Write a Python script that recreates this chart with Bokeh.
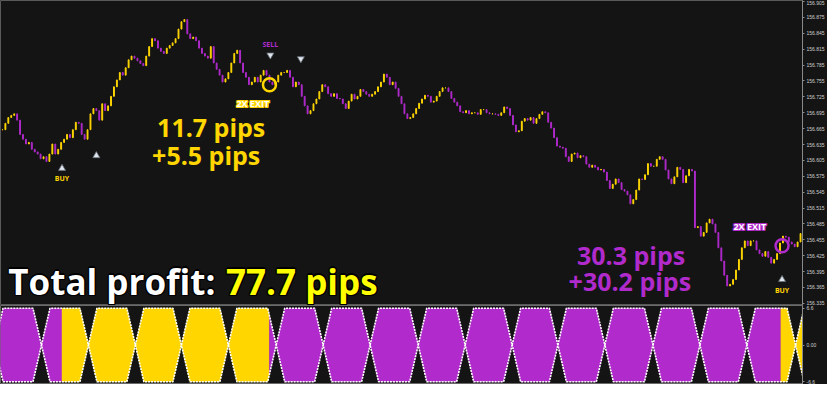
from bokeh.plotting import figure
from bokeh.models import Range1d, FixedTicker, ColumnDataSource, NumeralTickFormatter
from bokeh.layouts import column
from bokeh.embed import file_html
from bokeh.resources import INLINE
from bokeh.core.properties import value

# ---------------- data ----------------
closes = [
    156.663, 156.675, 156.686, 156.690, 156.693, 156.681, 156.654, 156.645, 156.636, 156.639,
    156.626, 156.621, 156.617, 156.608, 156.612, 156.603, 156.617, 156.636, 156.617, 156.626,
    156.639, 156.645, 156.654, 156.648, 156.663, 156.677, 156.675, 156.654, 156.645, 156.663,
    156.693, 156.703, 156.699, 156.681, 156.712, 156.699, 156.708, 156.726, 156.744, 156.757,
    156.771, 156.766, 156.780, 156.795, 156.802, 156.798, 156.793, 156.788, 156.784, 156.802,
    156.820, 156.835, 156.831, 156.817, 156.811, 156.807, 156.817, 156.822, 156.827, 156.835,
    156.853, 156.867, 156.871, 156.844, 156.835, 156.838, 156.831, 156.817, 156.807, 156.802,
    156.798, 156.820, 156.789, 156.777, 156.766, 156.753, 156.759, 156.771, 156.789, 156.807,
    156.813, 156.789, 156.771, 156.762, 156.748, 156.753, 156.762, 156.753, 156.766, 156.775,
    156.766, 156.753, 156.748, 156.753, 156.766, 156.771, 156.771, 156.775, 156.762, 156.744,
    156.753, 156.748, 156.726, 156.708, 156.693, 156.699, 156.712, 156.721, 156.735, 156.748,
    156.744, 156.731, 156.726, 156.731, 156.722, 156.721, 156.712, 156.703, 156.717, 156.730,
    156.721, 156.726, 156.739, 156.735, 156.730, 156.726, 156.730, 156.735, 156.744, 156.753,
    156.768, 156.762, 156.748, 156.753, 156.741, 156.726, 156.712, 156.693, 156.684, 156.686,
    156.693, 156.703, 156.713, 156.721, 156.728, 156.726, 156.715, 156.717, 156.726, 156.735,
    156.742, 156.742, 156.735, 156.722, 156.715, 156.708, 156.697, 156.695, 156.699, 156.693,
    156.695, 156.695, 156.692, 156.701, 156.701, 156.695, 156.693, 156.693, 156.692, 156.690,
    156.695, 156.706, 156.703, 156.690, 156.672, 156.659, 156.661, 156.679, 156.684, 156.681,
    156.686, 156.675, 156.684, 156.692, 156.697, 156.695, 156.677, 156.666, 156.648, 156.632,
    156.630, 156.628, 156.612, 156.603, 156.617, 156.619, 156.610, 156.614, 156.612, 156.598,
    156.592, 156.596, 156.592, 156.587, 156.588, 156.583, 156.567, 156.552, 156.560, 156.570,
    156.563, 156.550, 156.547, 156.540, 156.523, 156.531, 156.549, 156.570, 156.569, 156.578,
    156.599, 156.594, 156.594, 156.607, 156.612, 156.607, 156.587, 156.570, 156.561, 156.574,
    156.592, 156.588, 156.563, 156.576, 156.588, 156.585, 156.478, 156.480, 156.462, 156.469,
    156.487, 156.494, 156.485, 156.469, 156.440, 156.415, 156.388, 156.368, 156.371, 156.380,
    156.398, 156.418, 156.440, 156.453, 156.444, 156.453, 156.453, 156.436, 156.429, 156.424,
    156.433, 156.422, 156.411, 156.418, 156.429, 156.449, 156.462, 156.460, 156.451, 156.447,
    156.442, 156.451, 156.467,
]

price_ticks = [156.905, 156.875, 156.845, 156.815, 156.785, 156.755, 156.725, 156.695,
               156.665, 156.635, 156.605, 156.575, 156.545, 156.515, 156.485, 156.455,
               156.425, 156.395, 156.365, 156.335]
ind_ticks = [6.6, 0.0, -6.6]
ind_labels = {6.6: "6.6", 0.0: "0.00", -6.6: "-6.6"}

# oscillator: bar positions where the two lines cross, and colour changes
cross_points = [-2.7, 13.3, 29.3, 45.3, 61.0, 77.0, 93.3, 109.3, 125.3, 141.7, 157.7,
                173.7, 189.3, 205.3, 221.7, 237.7, 253.7, 270.3, 286.5]
ind_level = 6.6
color_breaks = [-1.0, 20.3, 91.0, 265.3, 274.0]
color_states = ["sell", "buy", "sell", "buy"]

BG = "#141414"
PURPLE = "#B02ACC"
YELLOW = "#FFD600"
BRIGHT = "#FFFF00"
FONT = "Open Sans"

X0, X1 = -0.667, 272.667

# ---------------- main price panel ----------------
p = figure(frame_width=802, frame_height=305, x_range=Range1d(X0, X1),
           y_range=Range1d(156.331, 156.907), output_backend="svg",
           toolbar_location=None, y_axis_location="right", x_axis_location=None,
           min_border_left=0, min_border_right=22, min_border_top=0, min_border_bottom=0,
           background_fill_color=BG, border_fill_color=BG, outline_line_color="#5a5a5a")
p.grid.visible = False
ax = p.yaxis[0]
ax.ticker = FixedTicker(ticks=price_ticks)
ax.formatter = NumeralTickFormatter(format="0.000")
ax.major_label_text_font_size = "5px"
ax.major_label_text_font = "Liberation Sans"
ax.major_label_text_color = "#cfcfcf"
ax.axis_line_color = "#8a8a8a"
ax.major_tick_line_color = "#8a8a8a"
ax.major_tick_out = 2
ax.major_tick_in = 0
ax.minor_tick_line_color = None
ax.major_label_standoff = 2

n = len(closes)
idx = list(range(n))
opens = [closes[0]] + closes[:-1]
src = ColumnDataSource(dict(
    x=idx,
    top=[max(o, c) for o, c in zip(opens, closes)],
    bottom=[min(o, c) for o, c in zip(opens, closes)],
    color=[YELLOW if c >= o else PURPLE for o, c in zip(opens, closes)],
))
p.vbar(x="x", top="top", bottom="bottom", width=0.3, fill_color="color",
       line_color="color", line_width=1, source=src)

# signal arrows
p.scatter(x=[20.3, 32.0, 265.7], y=[156.590, 156.614, 156.380], marker="triangle",
          size=7, fill_color="#dfe6ee", line_color="#6a7078", line_width=0.8)
p.scatter(x=[91.3, 101.7], y=[156.804, 156.797], marker="inverted_triangle",
          size=7, fill_color="#dfe6ee", line_color="#6a7078", line_width=0.8)

# small labels
p.text(x=[20.3, 265.7], y=[156.570, 156.360], text=["BUY", "BUY"], text_font=value(FONT),
       text_font_style="bold", text_font_size="7px", text_color=YELLOW,
       text_align="center", text_baseline="middle")
p.text(x=[91.3], y=[156.824], text=["SELL"], text_font=value(FONT),
       text_font_style="bold", text_font_size="7px", text_color=PURPLE,
       text_align="center", text_baseline="middle")

# exit circles
p.scatter(x=[91.0], y=[156.748], marker="circle", size=13, fill_color=None,
          line_color=YELLOW, line_width=2.5)
p.scatter(x=[265.7], y=[156.444], marker="circle", size=13, fill_color=None,
          line_color=PURPLE, line_width=2.5)

# outlined "2X EXIT" tags
offsets = [(-1.2, 0), (1.2, 0), (0, -1.2), (0, 1.2), (-1, -1), (1, 1), (-1, 1), (1, -1)]
for (tx, ty, col) in [(85.3, 156.713, YELLOW), (254.7, 156.480, PURPLE)]:
    for ox, oy in offsets:
        p.text(x=[tx], y=[ty], text=["2X EXIT"], text_font=value(FONT),
               text_font_style="bold", text_font_size="9px", text_color=col,
               text_align="center", text_baseline="middle", x_offset=ox, y_offset=oy)
    p.text(x=[tx], y=[ty], text=["2X EXIT"], text_font=value(FONT),
           text_font_style="bold", text_font_size="9px", text_color="white",
           text_align="center", text_baseline="middle")

# trade results
p.text(x=[52.7, 51.0], y=[156.668, 156.616], text=["11.7 pips", "+5.5 pips"],
       text_font=value(FONT), text_font_style="bold", text_font_size="25px",
       text_color=YELLOW, text_align="left", text_baseline="middle")
p.text(x=[232.7, 234.7], y=[156.427, 156.377], text=["30.3 pips", "+30.2 pips"],
       text_font=value(FONT), text_font_style="bold", text_font_size="25px",
       text_color=PURPLE, text_align="right", text_baseline="middle")

# total
TY = 156.377
for ox, oy in offsets:
    p.text(x=[2.0, 76.2], y=[TY, TY], text=["Total profit:", "77.7 pips"],
           text_font=value(FONT), text_font_style="bold", text_font_size="35px",
           text_color="#000000", text_align="left", text_baseline="middle",
           x_offset=ox, y_offset=oy)
p.text(x=[2.0], y=[TY], text=["Total profit:"], text_font=value(FONT),
       text_font_style="bold", text_font_size="35px", text_color="white",
       text_align="left", text_baseline="middle")
p.text(x=[76.2], y=[TY], text=["77.7 pips"], text_font=value(FONT),
       text_font_style="bold", text_font_size="35px", text_color=BRIGHT,
       text_align="left", text_baseline="middle")

# ---------------- oscillator panel ----------------
q = figure(frame_width=802, frame_height=79, x_range=p.x_range,
           y_range=Range1d(-7.1, 7.1), output_backend="svg",
           toolbar_location=None, y_axis_location="right", x_axis_location=None,
           min_border_left=0, min_border_right=22, min_border_top=0, min_border_bottom=0,
           background_fill_color=BG, border_fill_color=BG, outline_line_color="#6a6a6a")
q.grid.visible = False
qa = q.yaxis[0]
qa.ticker = FixedTicker(ticks=ind_ticks)
qa.major_label_overrides = ind_labels
qa.major_label_text_font_size = "5px"
qa.major_label_text_font = "Liberation Sans"
qa.major_label_text_color = "#cfcfcf"
qa.axis_line_color = "#8a8a8a"
qa.major_tick_line_color = "#8a8a8a"
qa.major_tick_out = 2
qa.major_tick_in = 0
qa.minor_tick_line_color = None
qa.major_label_standoff = 2

D = 2.9  # slant of each cell edge, in bars


def clip(poly, x0, keep_right):
    out = []
    m = len(poly)
    for i in range(m):
        a = poly[i]
        b = poly[(i + 1) % m]
        ina = a[0] >= x0 if keep_right else a[0] <= x0
        inb = b[0] >= x0 if keep_right else b[0] <= x0
        if ina:
            out.append(a)
        if ina != inb:
            t = (x0 - a[0]) / (b[0] - a[0])
            out.append((x0, a[1] + t * (b[1] - a[1])))
    return out


fx, fy, fc = [], [], []
ox_, oy_ = [], []
for a, b in zip(cross_points[:-1], cross_points[1:]):
    hexa = [(a, 0.0), (a + D, ind_level), (b - D, ind_level), (b, 0.0),
            (b - D, -ind_level), (a + D, -ind_level)]
    ox_.append([v[0] for v in hexa] + [a])
    oy_.append([v[1] for v in hexa] + [0.0])
    for s0, s1, st in zip(color_breaks[:-1], color_breaks[1:], color_states):
        piece = clip(clip(hexa, s0, True), s1, False)
        if len(piece) >= 3:
            fx.append([v[0] for v in piece])
            fy.append([v[1] for v in piece])
            fc.append(YELLOW if st == "buy" else PURPLE)

q.patches(xs=fx, ys=fy, fill_color=fc, line_color=fc, line_width=0.5)
q.multi_line(xs=ox_, ys=oy_, line_color="white", line_width=1.6, line_dash="2 1")

layout = column(p, q, spacing=0, background=BG)
open("out.html", "w").write(file_html(layout, INLINE))
